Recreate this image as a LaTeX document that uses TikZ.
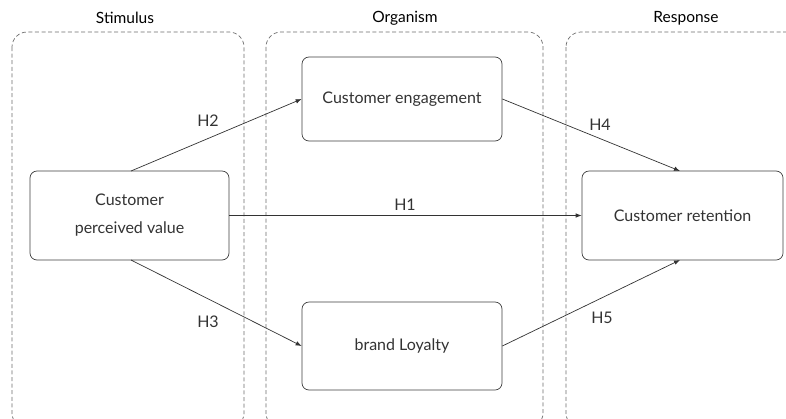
\documentclass[tikz,border=0pt]{standalone}
\usepackage{fontspec}
\setmainfont{Lato}
\usetikzlibrary{arrows.meta}
\definecolor{txt}{HTML}{333333}
\definecolor{dashc}{HTML}{6E6E6E}
\definecolor{boxc}{HTML}{404040}
\begin{document}
\begin{tikzpicture}[x=1pt,y=-1pt,
  stage/.style={draw=dashc, line width=0.7pt, dash pattern=on 4pt off 2.6pt, rounded corners=15pt},
  varbox/.style={draw=boxc, line width=0.7pt, rounded corners=7pt, text=txt, align=center,
    font=\fontsize{16}{28}\selectfont},
  hyp/.style={text=txt, font=\fontsize{16}{18}\selectfont},
  ttl/.style={text=black, font=\fontsize{15.5}{18}\selectfont},
  link/.style={draw=txt, line width=0.7pt, -{Latex[length=6pt,width=4.5pt]}}]
\useasboundingbox (0,0) rectangle (786,418);
\clip (0,0) rectangle (786,418);
\fill[white] (0,0) rectangle (786,418);
% stage containers
\draw[stage] (12,32) rectangle (244,428);
\draw[stage] (266,32) rectangle (543,428);
\draw[stage] (566,32) rectangle (806,428);
% titles
\node[ttl] (tS) at (125,18) {Stimulus};
\node[ttl] (tO) at (405,18) {Organism};
\node[ttl] (tR) at (686,18) {Response};
% boxes
\node[varbox, minimum width=199pt, minimum height=89pt, inner sep=0pt] (cpv) at (129.5,215.5) {Customer\\perceived value};
\node[varbox, minimum width=200pt, minimum height=84pt, inner sep=0pt] (ce) at (402,99) {Customer engagement};
\node[varbox, minimum width=200pt, minimum height=88pt, inner sep=0pt] (bl) at (402,346) {brand Loyalty};
\node[varbox, minimum width=201pt, minimum height=89pt, inner sep=0pt] (cr) at (682.5,215.5) {Customer retention};
% connectors
\coordinate (cpvT) at (131,171);
\coordinate (cpvB) at (131,260);
\coordinate (crT) at (680,171);
\coordinate (crB) at (680,260);
\draw[link] (cpvT) -- (ce.west);
\draw[link] (cpvB) -- (bl.west);
\draw[link] (cpv.east) -- (cr.west);
\draw[link] (ce.east) -- (crT);
\draw[link] (bl.east) -- (crB);
% labels
\node[hyp] (h2) at (208,121) {H2};
\node[hyp] (h3) at (208,322) {H3};
\node[hyp] (h1) at (405,205) {H1};
\node[hyp] (h4) at (600,125) {H4};
\node[hyp] (h5) at (602,318) {H5};
\end{tikzpicture}
\end{document}
